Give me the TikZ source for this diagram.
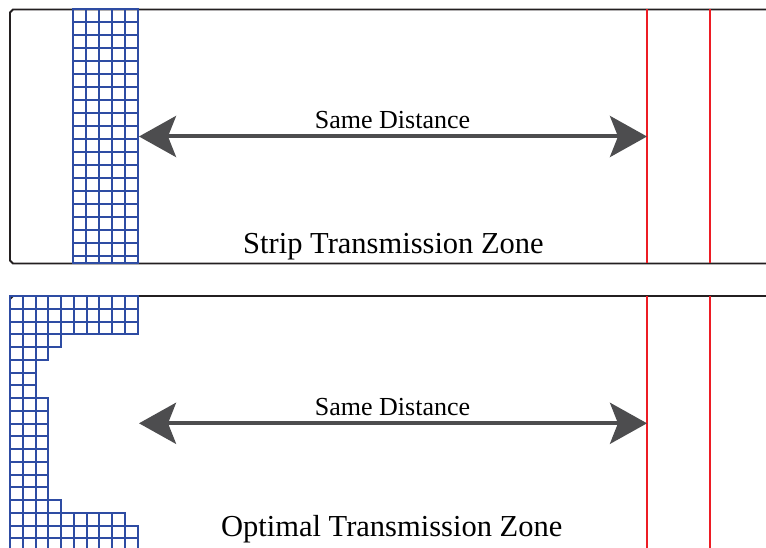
\documentclass[tikz,border=0pt]{standalone}
\usepackage{fontspec}
\setmainfont{Liberation Serif}
\usetikzlibrary{arrows.meta}
\definecolor{frameblack}{RGB}{35,31,32}
\definecolor{gridblue}{RGB}{46,76,163}
\definecolor{limitred}{RGB}{237,28,36}
\definecolor{arrowgray}{RGB}{77,77,79}
\tikzset{
  frame/.style={draw=frameblack, line width=1.8pt},
  cellbox/.style={draw=gridblue, line width=2pt},
  limitline/.style={draw=limitred, line width=1.6pt},
  distarrow/.style={draw=arrowgray, line width=4pt,
    {Stealth[length=37pt, width=41pt, inset=8pt]}-{Stealth[length=37pt, width=41pt, inset=8pt]}},
  smalllabel/.style={anchor=base, inner sep=0pt, font=\fontsize{26}{30}\selectfont},
  biglabel/.style={anchor=base, inner sep=0pt, font=\fontsize{30.5}{36}\selectfont}
}
\begin{document}
\begin{tikzpicture}[x=1pt, y=-1pt]
\useasboundingbox (0,0) rectangle (766,548);
\fill[white] (0,0) rectangle (766,548);
\clip (0,0) rectangle (766,548);

% --- upper panel: strip transmission zone ---
\draw[frame] (770,9.5) -- (13,9.5) -- (10,12.5) -- (10,260.5) -- (13,263.5) -- (770,263.5);
% vertical strip of cells
\foreach \r in {0,...,19}{
  \foreach \c in {0,...,4}{
    \pgfmathsetmacro{\yt}{9.5+\r*12.95}
    \pgfmathsetmacro{\yb}{min(9.5+(\r+1)*12.95,263.5)}
    \draw[cellbox] (73+\c*13,\yt) rectangle (73+\c*13+13,\yb);
  }
}
\draw[limitline] (647,9.5) -- (647,263.5);
\draw[limitline] (710,9.5) -- (710,263.5);
\coordinate (topL) at (139,136.5);
\coordinate (topR) at (647,136.5);
\draw[distarrow] (topL) -- (topR);
\node[smalllabel] (topdist) at (392.5,128.5) {Same Distance};
\node[biglabel] (striplabel) at (393.5,253.3) {Strip Transmission Zone};

% --- lower panel: optimal transmission zone ---
\draw[frame] (770,296) -- (13,296) -- (10,299) -- (10,560);
% cells per row, shaped to the zone boundary
\foreach \n [count=\r from 0] in {10,10,10,4,3,2,2,2,3,3,3,3,3,3,3,3,4,9,10,10}{
  \foreach \c in {1,...,\n}{
    \draw[cellbox] (10+\c*12.75-12.75,296+\r*12.75) rectangle (10+\c*12.75,296+\r*12.75+12.75);
  }
}
\draw[limitline] (647,296) -- (647,560);
\draw[limitline] (710,296) -- (710,560);
\coordinate (botL) at (139,423.3);
\coordinate (botR) at (647,423.3);
\draw[distarrow] (botL) -- (botR);
\node[smalllabel] (botdist) at (392.5,415) {Same Distance};
\node[biglabel] (optlabel) at (391.7,536.7) {Optimal Transmission Zone};
\end{tikzpicture}
\end{document}
